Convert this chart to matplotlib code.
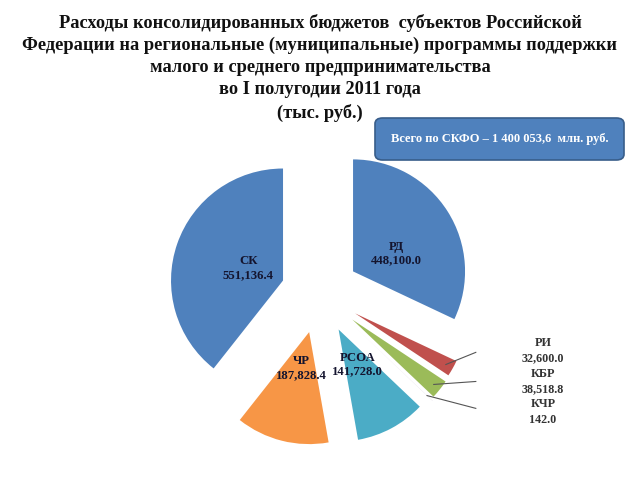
import matplotlib
matplotlib.use("Agg")
import matplotlib.pyplot as plt
import numpy as np
from matplotlib.patches import FancyBboxPatch

plt.rcParams["font.family"] = ["Liberation Serif", "DejaVu Serif"]

# data, clockwise from 12 o'clock
regions = ["РД", "РИ", "КБР", "КЧР", "РСОА", "ЧР", "СК"]
values = [448100.0, 32600.0, 38518.8, 142.0, 141728.0, 187828.4, 551136.4]
value_labels = ["448,100.0", "32,600.0", "38,518.8", "142.0", "141,728.0", "187,828.4", "551,136.4"]
colors = ["#4F81BD", "#C0504D", "#9BBB59", "#8064A2", "#4BACC6", "#F79646", "#4F81BD"]
explode = [0.36, 0.37, 0.38, 0.40, 0.37, 0.36, 0.34]

title = ("Расходы консолидированных бюджетов  субъектов Российской\n"
         "Федерации на региональные (муниципальные) программы поддержки\n"
         "малого и среднего предпринимательства\n"
         "во I полугодии 2011 года\n"
         "(тыс. руб.)")
total_text = "Всего по СКФО – 1 400 053,6  млн. руб."

W, H = 640, 480
fig = plt.figure(figsize=(W / 100, H / 100), dpi=100)

# pie axes: center ~ (319, 293) px, radius ~112 px
L = 1.7
r_px = 112
side = 2 * L * r_px
cx_px, cy_px = 319, H - 293
ax = fig.add_axes([(cx_px - side / 2) / W, (cy_px - side / 2) / H, side / W, side / H])

wedges, _ = ax.pie(values, colors=colors, explode=explode, startangle=90,
                   counterclock=False, wedgeprops=dict(linewidth=0))
ax.set_xlim(-L, L)
ax.set_ylim(-L, L)
ax.set_aspect("equal")
ax.axis("off")

# label offsets from each wedge's own centre, in radius units
inside = {"РД": (0.39, 0.16), "СК": (-0.31, 0.11), "РСОА": (0.17, -0.31), "ЧР": (-0.07, -0.32)}
for w, name, lab in zip(wedges, regions, value_labels):
    if name not in inside:
        continue
    x0, y0 = w.center
    dx, dy = inside[name]
    ax.text(x0 + dx, y0 + dy, f"{name}\n{lab}", ha="center", va="center",
            fontsize=9.2, fontweight="bold", color="#14142e", linespacing=1.16)

# small slices: leader lines to the side label
ends = {"РИ": (1.40, -0.53), "КБР": (1.40, -0.79), "КЧР": (1.40, -1.03)}
side_lines = []
for w, name, lab in zip(wedges, regions, value_labels):
    if name not in ends:
        continue
    mid = np.deg2rad((w.theta1 + w.theta2) / 2)
    x0, y0 = w.center
    sx, sy = x0 + 0.93 * np.cos(mid), y0 + 0.93 * np.sin(mid)
    ex, ey = ends[name]
    ax.plot([sx, ex], [sy, ey], color="#555555", lw=0.8)
    side_lines += [name, lab]

ax.text(2.0, -0.79, "\n".join(side_lines), ha="center", va="center",
        fontsize=8.7, fontweight="bold", color="#333333", linespacing=1.37)

fig.text(0.5, 1 - 14 / H, title, ha="center", va="top", fontsize=13.2,
         fontweight="bold", color="#111111", linespacing=1.38)

bx0, by0, bx1, by1 = 375, 118, 624, 160
box = FancyBboxPatch((bx0 / W, 1 - by1 / H), (bx1 - bx0) / W, (by1 - by0) / H,
                     boxstyle="round,pad=0,rounding_size=0.012",
                     transform=fig.transFigure, facecolor="#4F81BD",
                     edgecolor="#385D8A", linewidth=1.2)
fig.patches.append(box)
fig.text((bx0 + bx1) / 2 / W, 1 - (by0 + by1) / 2 / H, total_text, ha="center",
         va="center", fontsize=9, fontweight="bold", color="white")

fig.savefig("out.png", dpi=100)
